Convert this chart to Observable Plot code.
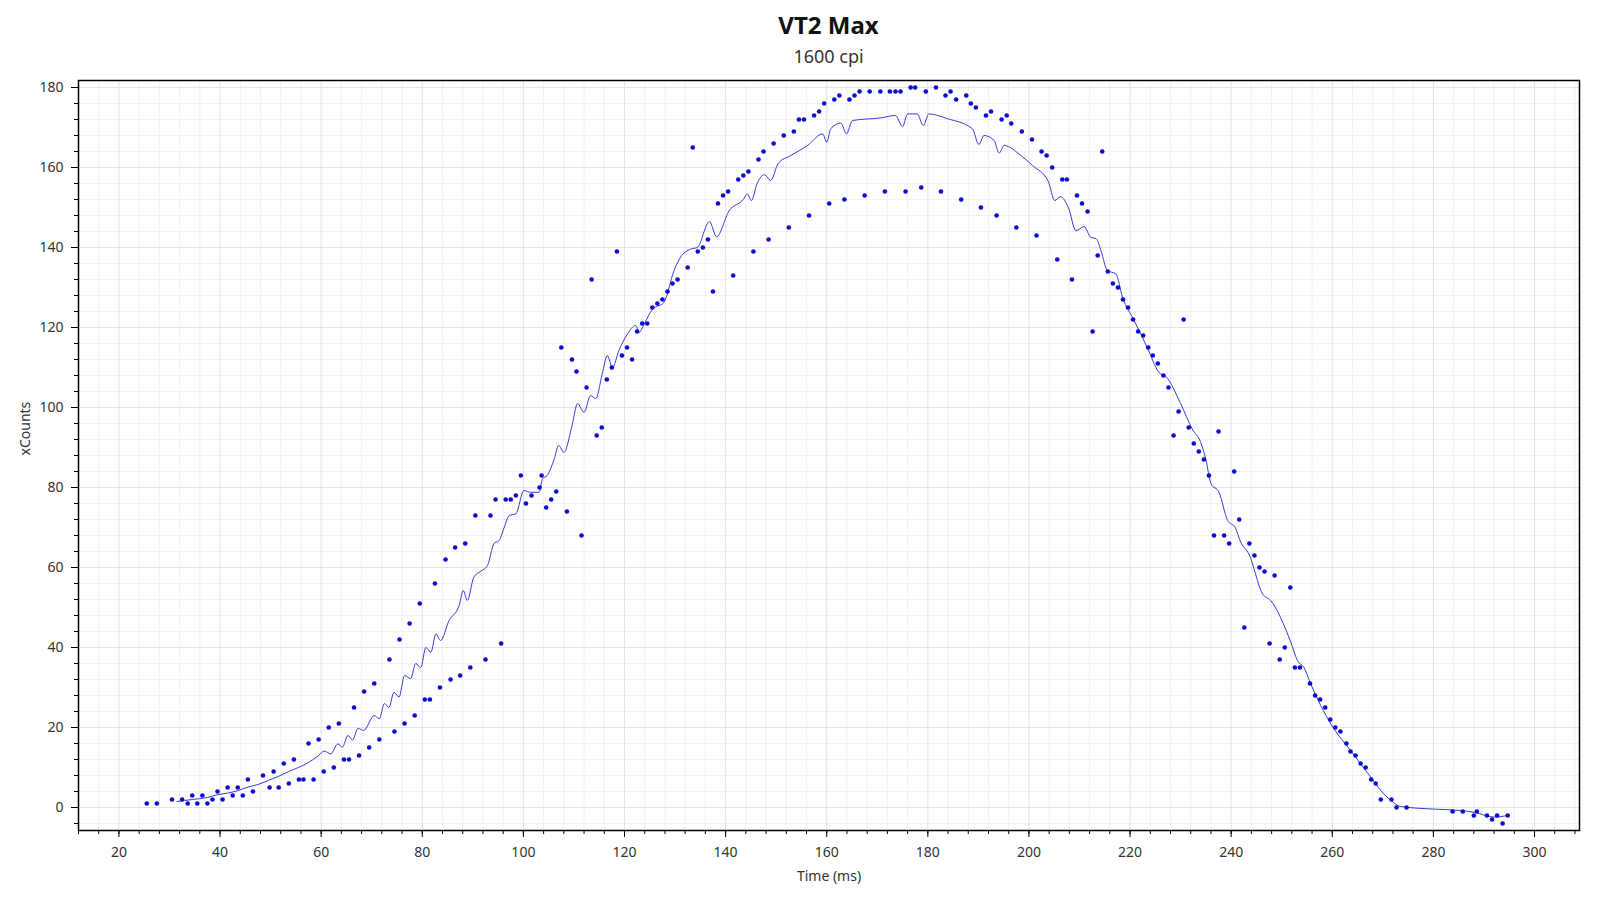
<!DOCTYPE html>
<html>
<head>
<meta charset="utf-8">
<script src="https://cdn.jsdelivr.net/npm/d3@7"></script>
<script src="https://cdn.jsdelivr.net/npm/@observablehq/plot@0.6"></script>
<style>
  html, body { margin: 0; padding: 0; background: #fff; }
  #wrap { width: 1600px; }
  #header { position: relative; width: 1600px; height: 66px; }
  #title { position: absolute; left: 78px; width: 1501px; top: 13px; text-align: center;
           font-family: "Noto Sans", sans-serif; font-weight: bold; font-size: 24px; line-height: 24px; color: #111; }
  #subtitle { position: absolute; left: 78px; width: 1501px; top: 47px; text-align: center;
           font-family: "Noto Sans", sans-serif; font-size: 18px; line-height: 18px; color: #333; }
  svg { display: block; }
</style>
</head>
<body>
<div id="wrap">
  <div id="header">
    <div id="title">VT2 Max</div>
    <div id="subtitle">1600 cpi</div>
  </div>
  <div id="chart"></div>
</div>
<script>
const xTicks = [20, 40, 60, 80, 100, 120, 140, 160, 180, 200, 220, 240, 260, 280, 300];
const yTicks = [0, 20, 40, 60, 80, 100, 120, 140, 160, 180];

const pointTimes = [
  25.5, 27.5, 30.5, 32.5, 33.6, 34.5, 35.5, 36.5, 37.5, 38.5, 39.5, 40.5, 41.5, 42.5, 43.5, 44.5, 45.5, 46.5, 48.5, 49.8,
  50.6, 51.6, 52.6, 53.6, 54.6, 55.6, 56.5, 57.5, 58.5, 59.5, 60.5, 61.5, 62.5, 63.5, 64.5, 65.5, 66.5, 67.5, 68.5, 69.5,
  70.5, 71.5, 73.5, 74.5, 75.5, 76.5, 77.5, 78.5, 79.5, 80.5, 81.5, 82.5, 83.5, 84.6, 85.6, 86.5, 87.5, 88.5, 89.5, 90.5,
  92.5, 93.5, 94.5, 95.6, 96.5, 97.5, 98.5, 99.5, 100.5, 101.6, 103.2, 103.6, 104.5, 105.5, 106.5, 107.5, 108.6, 109.6, 110.5, 111.5,
  112.5, 113.5, 114.5, 115.5, 116.5, 117.5, 118.5, 119.5, 120.5, 121.5, 122.5, 123.5, 124.5, 125.5, 126.5, 127.5, 128.5, 129.5, 130.5, 132.5,
  133.5, 134.5, 135.5, 136.5, 137.5, 138.5, 139.5, 140.5, 141.5, 142.5, 143.5, 144.5, 145.5, 146.5, 147.5, 148.5, 149.5, 151.5, 152.5, 153.5,
  154.5, 155.5, 156.5, 157.5, 158.5, 159.5, 160.5, 161.5, 162.5, 163.5, 164.5, 165.5, 166.5, 167.5, 168.5, 170.6, 171.5, 172.5, 173.6, 174.6,
  175.6, 176.6, 177.5, 178.7, 179.6, 181.6, 182.6, 183.5, 184.5, 185.6, 186.6, 187.6, 188.5, 189.5, 190.5, 191.5, 192.5, 193.6, 194.6, 195.6,
  196.5, 197.5, 198.6, 200.6, 201.5, 202.5, 203.5, 204.6, 205.6, 206.6, 207.5, 208.5, 209.5, 210.5, 211.6, 212.6, 213.6, 214.5, 215.6, 216.6,
  217.6, 218.6, 219.6, 220.6, 221.6, 222.6, 223.6, 224.5, 225.5, 226.6, 227.6, 228.6, 229.6, 230.6, 231.6, 232.6, 233.6, 234.6, 235.6, 236.6,
  237.5, 238.6, 239.6, 240.6, 241.6, 242.6, 243.6, 244.6, 245.6, 246.6, 247.6, 248.6, 249.6, 250.6, 251.7, 252.6, 253.6, 255.6, 256.6, 257.6,
  258.6, 259.6, 260.6, 261.6, 262.8, 263.6, 264.6, 265.6, 266.6, 267.7, 268.6, 269.6, 271.7, 272.7, 274.7, 283.8, 285.8, 288, 288.6, 290.6,
  291.6, 292.6, 293.7, 294.7
];
const pointCounts = [
  1, 1, 2, 2, 1, 3, 1, 3, 1, 2, 4, 2, 5, 3, 5, 3, 7, 4, 8, 5,
  9, 5, 11, 6, 12, 7, 7, 16, 7, 17, 9, 20, 10, 21, 12, 12, 25, 13, 29, 15,
  31, 17, 37, 19, 42, 21, 46, 23, 51, 27, 27, 56, 30, 62, 32, 65, 33, 66, 35, 73,
  37, 73, 77, 41, 77, 77, 78, 83, 76, 78, 80, 83, 75, 77, 79, 115, 74, 112, 109, 68,
  105, 132, 93, 95, 107, 110, 139, 113, 115, 112, 119, 121, 121, 125, 126, 127, 129, 131, 132, 135,
  165, 139, 140, 142, 129, 151, 153, 154, 133, 157, 158, 159, 139, 162, 164, 142, 166, 168, 145, 169,
  172, 172, 148, 173, 174, 176, 151, 177, 178, 152, 177, 178, 179, 153, 179, 179, 154, 179, 179, 179,
  154, 180, 180, 155, 179, 180, 154, 178, 179, 177, 152, 178, 176, 175, 150, 173, 174, 148, 172, 173,
  171, 145, 169, 167, 143, 164, 163, 160, 137, 157, 157, 132, 153, 151, 149, 119, 138, 164, 134, 131,
  130, 127, 125, 122, 119, 118, 115, 113, 111, 108, 105, 93, 99, 122, 95, 91, 89, 87, 83, 68,
  94, 68, 66, 84, 72, 45, 66, 63, 60, 59, 41, 58, 37, 40, 55, 35, 35, 31, 28, 27,
  25, 22, 20, 19, 16, 14, 13, 11, 10, 7, 6, 2, 2, 0, 0, -1, -1, -2, -1, -2,
  -3, -2, -4, -2
];

const lineTimes = [
  31.5, 34.5, 37.5, 39.5, 41.5, 43.5, 45.5, 47.5, 49.5, 51.5, 53.6, 55.5, 57.5, 59.5, 60.6, 61.9, 63.3, 64.2, 65.3, 66.2,
  67.3, 68.4, 70.5, 71.5, 72.5, 73.4, 74.4, 75.4, 76.5, 77.7, 78.7, 79.7, 80.7, 81.7, 82.7, 83.6, 85.3, 87.3, 88.1, 88.9,
  90.2, 91.5, 92.9, 94.2, 95.2, 96.2, 97.2, 98.5, 100.1, 101.4, 103.1, 103.8, 104.7, 106, 107, 108, 109.7, 110.7, 112, 113.3,
  114.3, 115.6, 116.6, 117.6, 118.9, 120.6, 122.2, 122.9, 123.9, 125.5, 127.8, 129.8, 131.1, 133.1, 134.4, 136.8, 138.2, 140.7, 143.5, 144.3,
  145.1, 146.2, 147.7, 148.9, 150.4, 152.9, 156.2, 159.2, 160, 160.8, 162.8, 163.9, 165.1, 170.7, 173.6, 175, 176, 177.9, 179.1, 180.2,
  183.9, 188.8, 190.1, 191.1, 193.1, 194.1, 195.1, 198.4, 200.7, 203.8, 205.1, 206.2, 207.8, 209.3, 210.9, 212.2, 213.3, 214.3, 215.5, 217.2,
  218.5, 220.8, 223.4, 225.7, 227.1, 230, 232.3, 234, 235, 236, 237.6, 239.3, 240.8, 241.9, 243.5, 246.2, 247.8, 251.8, 253.1, 254.4,
  255.7, 259.7, 263.6, 267.6, 269.6, 271.6, 273.5, 280.1, 285.4, 288.1, 292, 294.7
];
const lineCounts = [
  1.5, 2, 2.5, 3.2, 3.6, 4.2, 5.1, 5.75, 6.75, 7.75, 9, 10, 11.25, 13, 14.1, 13.4, 15.9, 15.1, 18, 16.9,
  19.8, 19.25, 23, 22.2, 26, 25, 28.8, 27.6, 33, 32.2, 36, 35, 40, 38.8, 43.4, 41.75, 46.75, 50.5, 54.25, 51.75,
  57.6, 59, 60.5, 66, 66.75, 70, 73, 73.4, 79.25, 78.8, 78.8, 82.2, 83, 86.75, 90.5, 88.8, 95.9, 101, 98.8, 103,
  102.2, 108.4, 113, 110, 114.25, 118.4, 120.5, 118.8, 120.9, 124.5, 126.3, 134.25, 137.6, 139.6, 140, 146.5, 142.7, 149.2, 152, 153.4,
  151.75, 155.9, 158.2, 156.75, 161, 163, 165.5, 168.4, 166.3, 169.7, 171.1, 168.4, 171.75, 172.4, 173, 170.25, 173.4, 173.4, 170.5, 173.4,
  172.2, 169.7, 165.75, 168, 166.75, 163.6, 165.5, 163, 160.5, 156.6, 151.75, 152.7, 150, 144.2, 145.25, 142.6, 142.2, 139, 134.25, 133.4,
  127.6, 121.75, 115, 108.8, 107.75, 101, 94.6, 91.2, 87, 81, 78.8, 71.75, 70, 66.3, 63.4, 53.4, 51.75, 41.3, 36.75, 35,
  31, 20.9, 14.25, 7.6, 4.25, 1.75, 0.25, -0.4, -0.75, -1.2, -2.4, -2
];

const points = pointTimes.map((t, i) => ({t, c: pointCounts[i]}));
const lineData = lineTimes.map((t, i) => ({t, c: lineCounts[i]}));

const xMinor = d3.range(12, 309, 4);
const yMinor = d3.range(-4, 182, 4);
const xMinorOnly = xMinor.filter(d => !xTicks.includes(d));
const yMinorOnly = yMinor.filter(d => !yTicks.includes(d));

const chart = Plot.plot({
  width: 1600,
  height: 834,
  marginTop: 14,
  marginBottom: 70,
  marginLeft: 78,
  marginRight: 21,
  style: {fontFamily: "'Noto Sans', sans-serif", background: "#fff"},
  x: {domain: [12, 308.9]},
  y: {domain: [-5.75, 181.75]},
  marks: [
    Plot.ruleX(xMinorOnly, {stroke: "#f0f0f5", strokeWidth: 1}),
    Plot.ruleY(yMinorOnly, {stroke: "#f0f0f5", strokeWidth: 1}),
    Plot.ruleX(xTicks, {stroke: "#e2e2ea", strokeWidth: 1}),
    Plot.ruleY(yTicks, {stroke: "#e2e2ea", strokeWidth: 1}),
    Plot.axisX(xMinor, {tickSize: 4, tickFormat: () => "", label: null, stroke: "#000"}),
    Plot.axisY(yMinor, {tickSize: 4, tickFormat: () => "", label: null, stroke: "#000"}),
    Plot.axisX(xTicks, {tickSize: 7, tickPadding: 10, fontSize: 14, label: null, stroke: "#000", fill: "#333"}),
    Plot.axisY(yTicks, {tickSize: 7, tickPadding: 8, fontSize: 14, label: null, stroke: "#000", fill: "#333"}),
    Plot.line(lineData, {x: "t", y: "c", curve: "monotone-x", stroke: "#3a3ada", strokeWidth: 1}),
    Plot.dot(points, {x: "t", y: "c", r: 2.3, fill: "#0c0cd0", stroke: "none"}),
    Plot.frame({stroke: "#000", strokeWidth: 1.5}),
    Plot.text(["Time (ms)"], {text: d => d, frameAnchor: "bottom", dy: 50, lineAnchor: "bottom", fontSize: 14, fill: "#333"}),
    Plot.text(["xCounts"], {text: d => d, frameAnchor: "left", dx: -53, rotate: -90, lineAnchor: "middle", fontSize: 14, fill: "#333"})
  ]
});
document.getElementById("chart").appendChild(chart);
</script>
</body>
</html>
